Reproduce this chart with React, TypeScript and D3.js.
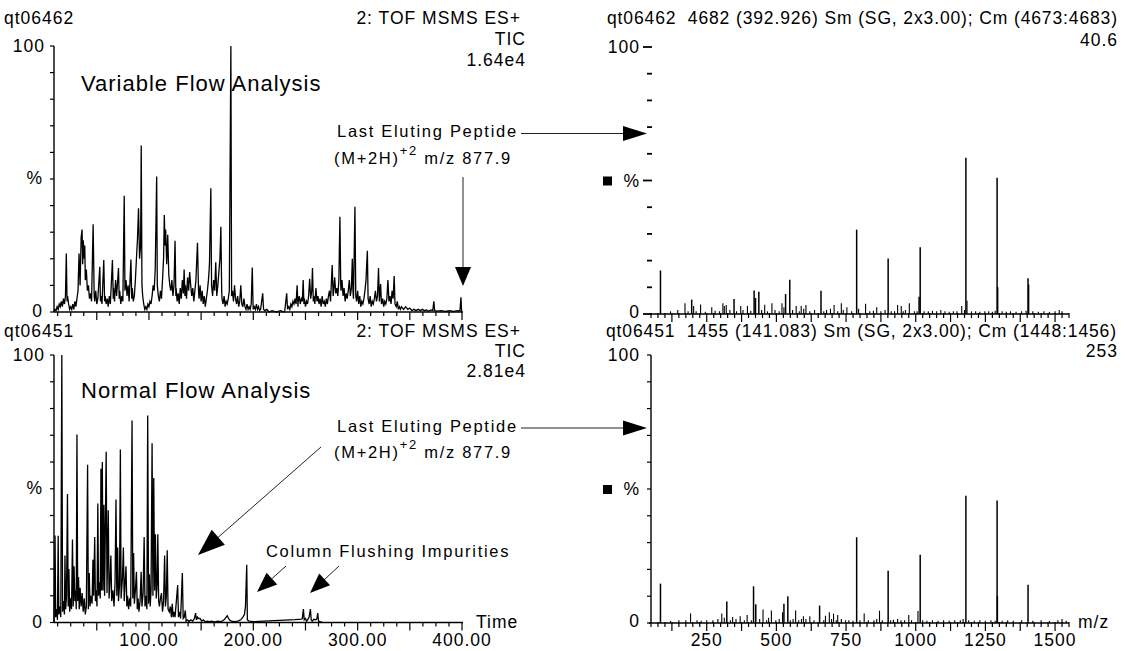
import React from 'react';
import * as d3 from 'd3';

// TIC, variable flow run (time, %)
const variableFlowTic: [number, number][] = [
  [9,0],[10,1],[11,0.5],[12,2],[13,1],[14,3],[15,2],[16,4],[17,2],[18,5],[19,3],[20,6],[20.8,22],[21.5,4],[22,6],[23,3],[24,1],[25,2],[26,1],[27,3],[28,1],[29,4],[30,2],[31,5],[32,8],[33,22],[34,10],[35,28],[35.9,31],[36.5,18],[37,27],[38,20],[38.5,25],[39,12],[40,16],[41,8],[42,10],[43,5],[44,7],[45,4],[46.5,33],[47.5,6],[48,4],[49,8],[50,3],[51,5],[52.9,17],[53.5,4],[54,6],[55,3],[56.7,19.5],[57.5,4],[58,6],[59,3],[60,5],[61,2],[62,6],[63,3],[65,19.5],[65.8,5],[66,9],[67,4],[68,12],[69,6],[70.8,16.5],[71.5,5],[72,8],[73,3],[74,6],[75,4],[76.3,43.7],[77,8],[78,12],[79,6],[80,10],[81,4],[82.7,19.7],[83.5,5],[84,9],[85,4],[86,6],[87,12],[88,20],[89,27.5],[90,39],[91,20],[92,25],[92.6,62.6],[93.3,10],[94,6],[95,3],[96,1],[97,2],[98,1],[99,3],[100,2],[101,4],[102,3],[103,6],[104,10],[105,8],[106,16],[107.4,50.9],[108,10],[109,6],[110,4],[111,8],[112,5],[113,12],[114,20],[114.7,36.5],[115.5,25],[116,31],[117,18],[118,29],[119,14],[120,10],[121,8],[122,12],[123,6],[124,10],[125,26.8],[125.8,6],[126,9],[127,4],[128,7],[129,3],[130,9],[131,5],[132,12],[133,7],[133.7,16],[134.5,6],[135,10],[136,5],[137,13],[138,8],[139,15],[140,10],[141,6],[142,9],[143,4],[144,8],[145,12],[146.5,26],[147.5,8],[148,5],[149,10],[150,4],[151,8],[152,3],[153,6],[154,2],[155,5],[156,8],[157,12],[158,18],[159.3,46.5],[160,10],[161,6],[162,12],[163,8],[164,18.7],[165,6],[166,10],[167,15],[168,20],[168.9,32],[169.7,8],[170,5],[171,3],[172,6],[173,2],[174,4],[175,3],[176,5],[177,8],[178.5,100],[179.2,6],[180,8],[181,4],[182,10],[183,5],[184,3],[185,6],[186,2],[187,4],[188,10],[189,3],[190,2],[191,5],[192,2],[193,1],[194,3],[195,1],[196,2],[197,1],[198,3],[199,16.7],[199.8,2],[200,1],[201,2],[202,1],[203,3],[204,1],[205,2],[206,0.5],[207,1],[209,7],[209.8,1],[211,0.5],[213,1],[215,0],[218,0.5],[222,0],[226,0.5],[230,0],[232,7],[232.8,1],[234,2],[235,1],[236,3],[237,2],[238,4],[239,3],[240,5],[241,3],[242,10],[242.8,2],[243,4],[244,6],[245,3],[246,5],[247,4],[247.8,12],[248.5,3],[249,5],[250,2],[251,4],[252,3],[253,6],[254,12.5],[255,5],[256,8],[256.7,16.5],[257.5,4],[258,6],[259,3],[260,9],[261,4],[262,6],[263,3],[264,5],[265,2],[266,6],[267,3],[268,4],[269,2],[270,5],[271,3],[272,6],[273,8],[274,4],[275.6,17.7],[276.5,6],[277,8],[278,13],[279,7],[280,9],[281,6],[282,12],[283,35.8],[283.8,10],[284,8],[285,12],[286,6],[287,9],[288,4],[289,7],[290,5],[291,8],[292,12],[293,6],[294,9],[294.9,20],[295.5,8],[296,5],[297.4,39.6],[298.2,6],[299,4],[300,8],[301,3],[302,6],[303,2],[304,4],[305,3],[306,5],[307,8],[308,12],[309.3,23],[310,5],[311,3],[312,6],[313,2],[314,4],[315,3],[316,5],[317,8],[318,4],[319,6],[320,16.5],[320.8,4],[322,10.5],[322.8,3],[324,5],[325,2],[326,4],[327,3],[328,5],[329,12],[330,4],[331,6],[332,3],[333,8],[334,5],[335,13.5],[335.8,3],[337,2],[338,4],[339,1],[340,2],[341,1],[342,2],[344,1],[346,2],[348,1],[350,1.5],[352,0.5],[354,1],[356,0.5],[358,1],[360,0.5],[362,1],[364,0.5],[366,0.8],[368,0.3],[370,0.8],[372,0.5],[373,4],[373.8,0.5],[376,0.3],[380,0.5],[384,0.2],[388,0.5],[392,0.2],[396,0.5],[398,0.3],[399,5.5],[399.6,0.3],[400,0]
];

// TIC, normal flow run (time, %)
const normalFlowTic: [number, number][] = [
  [9,0],[10,32.5],[10.6,2],[11.5,5],[12.3,1],[13,32.4],[13.6,3],[14.5,6],[15.5,2],[16.5,100],[17.2,4],[18,8],[19,3],[19.5,25],[20.2,5],[21,10],[21.9,48],[22.6,6],[23.3,20],[24,4],[25,9],[25.8,5],[26.7,31],[27.4,6],[28.2,21],[29,8],[29.8,12],[30.3,5],[31,70.3],[31.7,8],[32.5,17],[33.2,5],[34,13],[35,6],[36,11],[37,4],[38,9],[39,3],[40,6],[41.2,59],[41.9,5],[42.8,18.5],[43.5,6],[44.5,10],[45.5,7],[46.3,23.5],[47,10],[48,32],[48.7,8],[49.5,12],[50.2,6],[51,44.5],[51.7,10],[52.5,15],[53.3,9],[54,57.5],[54.6,12],[55.3,60],[56,12],[56.8,44],[57.5,10],[59,63.8],[59.8,11],[61,42],[61.8,9],[62.5,14],[63.5,25],[64.3,8],[65.5,12],[66.5,6],[67.5,15],[68.4,46],[69.2,10],[70,28],[70.8,8],[71.8,14],[72.6,64.7],[73.3,9],[74.5,16],[75.5,28],[76.3,8],[77,14],[78,21],[78.8,6],[79.5,10],[80.5,5],[81.5,9],[82.5,6],[83.8,75.5],[84.5,9],[85.3,26],[86,7],[87,12],[88,19],[88.8,5],[89.6,9],[90.4,4],[91.5,8],[92.5,19],[93.3,6],[94.4,11],[95.4,32],[96.2,6],[97,10],[98,5],[98.8,77.4],[99.6,7],[100.4,18],[101.2,6],[102,12],[103,67],[103.8,10],[104.6,54],[105.4,12],[106.2,33],[107,9],[107.8,14],[108.5,33],[109.3,8],[110,6],[111,9],[112,11],[113,4],[114,8],[115,25],[115.8,6],[116.7,10],[117.5,27],[118.3,5],[119.5,4],[120.5,6],[121.5,2],[122.3,7],[123.2,2],[124,4],[125,2],[127.5,14],[128.3,2],[129.3,4],[130.3,1.5],[132,18.5],[132.8,1.5],[133.8,2],[134.8,4.5],[135.6,0.5],[137,1],[138.5,0.3],[140,1],[142,0.5],[143.5,1.5],[144.7,3.5],[145.5,1],[146.5,2],[147.5,1.5],[149,1.5],[150.5,0.5],[152,1],[154,0.3],[156,0.5],[158,0.3],[160,0.5],[163,0.2],[166,0.5],[169,0.3],[172,1],[175,2.5],[177,1],[179,0.5],[182,0.3],[185,0.5],[188,1],[190,2],[191.5,3],[192.5,6],[193.7,21.6],[194.3,1],[196,0.5],[200,0.3],[210,0.5],[220,0.7],[230,0.9],[240,1.1],[246,1.3],[247,1.5],[248,5],[248.8,1],[250,1.5],[251,0.5],[252,1],[253.5,2],[254.7,5],[255.5,1],[256.5,0.5],[258,1.2],[260,1],[261,1.5],[261.7,3.5],[262.5,0.5],[264,0.3],[266.5,0]
];

// MS/MS spectrum at scan 4682 (m/z, %)
const variableFlowSpectrum: [number, number][] = [
  [84,16.3],[120,1],[146,1.5],[172,4],[183,1],[196,5.4],[203,3],[212,1],[228,3.6],[245,0.8],[268,2.5],[280,1.2],[296,1],[308,4],[313,3],[320,3.4],[333,1.5],[348,5.6],[357,1],[372,3],[380,1.5],[396,3],[408,1.2],[420,8.8],[425,6],[437,8.3],[447,1.5],[458,3.5],[468,1],[484,4],[495,1.5],[510,1],[520,4],[527,2.5],[533,7.5],[548,12.8],[558,1.5],[571,3],[582,1],[589,3],[598,2],[606,3.4],[620,1],[637,1.5],[660,8.7],[670,1],[680,1.5],[694,2],[707,3.4],[720,1],[733,4],[740,1.5],[753,2.5],[770,1],[788,31.6],[795,2],[820,3.8],[835,1],[848,1.2],[860,2.5],[875,1],[890,1.5],[901,20.8],[912,1],[924,1],[935,3.4],[948,3],[955,1],[963,1.5],[977,4],[995,1],[1005,1],[1012,6.5],[1016,25],[1030,1],[1045,1],[1060,1.2],[1075,1],[1090,1.5],[1105,1],[1120,0.8],[1135,1],[1148,1],[1165,3],[1175,1.5],[1180,58.5],[1184,5],[1200,1],[1215,1],[1230,0.8],[1248,1],[1262,1],[1275,0.8],[1285,1.2],[1292,51],[1294,10],[1310,1],[1325,0.8],[1340,1],[1360,0.8],[1380,1],[1396,1.2],[1403,13.4],[1405,11],[1420,1],[1440,0.8],[1460,1],[1480,0.8],[1500,1],[1515,1.5],[1525,1]
];

// MS/MS spectrum at scan 1455 (m/z, %)
const normalFlowSpectrum: [number, number][] = [
  [84,14.7],[120,0.8],[150,1],[175,1],[192,3.5],[215,1],[230,0.8],[250,1],[272,1],[290,1.5],[304,3.5],[313,2],[322,8],[335,1],[343,2.2],[355,1.5],[370,2.5],[385,1],[395,3],[410,1],[418,13.7],[426,7],[440,1.5],[452,5],[465,1],[472,2],[482,4.7],[498,1],[510,1.5],[522,4],[527,7.2],[541,10],[550,1],[560,1.5],[569,4.7],[580,1],[590,1.5],[597,2.5],[606,1.5],[620,2.5],[635,1],[655,6.5],[670,1],[676,2.7],[690,4],[698,1.5],[705,3.5],[715,1],[720,3],[733,1.5],[748,1],[760,1],[775,0.8],[788,32],[800,1],[815,3.5],[830,1],[850,1],[860,1.5],[870,4.6],[880,1],[901,19.5],[910,1],[920,1.2],[935,1.5],[947,1],[960,1],[975,3],[985,1],[1008,4.5],[1016,25.5],[1025,1],[1040,0.8],[1060,1],[1080,0.8],[1100,1],[1120,0.8],[1140,1],[1160,1],[1170,1.5],[1180,47.5],[1190,1],[1210,0.8],[1230,1],[1250,0.8],[1270,1],[1285,0.8],[1292,45.7],[1293,10],[1310,0.8],[1330,1],[1350,0.8],[1380,1],[1403,14.3],[1420,0.8],[1450,1],[1480,0.8],[1510,1],[1525,1.5],[1540,0.8]
];

const timeTicks = [100, 200, 300, 400];
const timeTickLabels = ['100.00', '200.00', '300.00', '400.00'];
const mzTicks = [250, 500, 750, 1000, 1250, 1500];

const FONT = '"Liberation Sans", Arial, Helvetica, sans-serif';

// triangle head for an arrow running from (x1,y1) to the tip (x2,y2)
const arrowHead = (x1: number, y1: number, x2: number, y2: number, len: number, half: number) => {
  const dx = x2 - x1, dy = y2 - y1;
  const d = Math.sqrt(dx * dx + dy * dy);
  const ux = dx / d, uy = dy / d;
  const bx = x2 - ux * len, by = y2 - uy * len;
  return `${x2},${y2} ${bx - uy * half},${by + ux * half} ${bx + uy * half},${by - ux * half}`;
};

const Arrow = ({ x1, y1, x2, y2, len = 24, half = 8, w = 1 }: any) => {
  const dx = x2 - x1, dy = y2 - y1;
  const d = Math.sqrt(dx * dx + dy * dy);
  return (
    <g>
      <line x1={x1} y1={y1} x2={x2 - (dx / d) * (len - 2)} y2={y2 - (dy / d) * (len - 2)} stroke="#222" strokeWidth={w} />
      <polygon points={arrowHead(x1, y1, x2, y2, len, half)} fill="#000" />
    </g>
  );
};

const Chromatogram = ({ data, y0, y100, showLabels }: any) => {
  const x = d3.scaleLinear().domain([9, 400]).range([54, 462]);
  const y = d3.scaleLinear().domain([0, 100]).range([y0, y100]);
  const line = d3.line<[number, number]>().x(d => x(d[0])).y(d => y(d[1]));
  const minor = d3.range(12.5, 400.01, 12.5);
  return (
    <g>
      <path d={line(data) || ''} fill="none" stroke="#000" strokeWidth={1.3} strokeLinejoin="miter" />
      <line x1={x(9)} x2={x(9)} y1={y(0)} y2={y(100)} stroke="#000" strokeWidth={1.4} />
      <line x1={x(9)} x2={x(400) + 1} y1={y(0)} y2={y(0)} stroke="#000" strokeWidth={1.4} />
      {d3.range(0, 101, 10).map(v => (
        <line key={v} x1={x(9) - 4} x2={x(9)} y1={y(v)} y2={y(v)} stroke="#000" strokeWidth={1.2} />
      ))}
      {minor.map(v => (
        <line key={v} x1={x(v)} x2={x(v)} y1={y(0)} y2={y(0) + (v % 50 === 0 ? 8 : 4)} stroke="#000" strokeWidth={1.2} />
      ))}
      <text x={45} y={y(100) + 6} textAnchor="end">100</text>
      <text x={43} y={y(50) + 5} textAnchor="end">%</text>
      <text x={43} y={y(0) + 5} textAnchor="end">0</text>
      {showLabels && timeTicks.map((t, i) => (
        <text key={t} x={x(t)} y={y(0) + 23} textAnchor="middle">{timeTickLabels[i]}</text>
      ))}
    </g>
  );
};

const Spectrum = ({ data, y0, y100, axisLine, showLabels }: any) => {
  const x = d3.scaleLinear().domain([50, 1550]).range([651, 1069]);
  const y = d3.scaleLinear().domain([0, 100]).range([y0, y100]);
  const minor = d3.range(50, 1550.01, 25);
  return (
    <g>
      {data.map((d: [number, number], i: number) => (
        <line key={i} x1={x(d[0])} x2={x(d[0])} y1={y(0)} y2={y(d[1])} stroke="#000" strokeWidth={d[1] > 5 ? 1.5 : 1.1} />
      ))}
      <line x1={x(50) - 2} x2={x(1550)} y1={y(0)} y2={y(0)} stroke="#000" strokeWidth={1.4} />
      {minor.map(v => (
        <line key={v} x1={x(v)} x2={x(v)} y1={y(0) - 1} y2={y(0) + (v % 125 === 0 ? 8 : 4)} stroke="#000" strokeWidth={1.2} />
      ))}
      {axisLine ? (
        <g>
          <line x1={x(50)} x2={x(50)} y1={y(0)} y2={y(100)} stroke="#000" strokeWidth={1.4} />
          {d3.range(0, 101, 10).map(v => (
            <line key={v} x1={x(50) - 4} x2={x(50)} y1={y(v)} y2={y(v)} stroke="#000" strokeWidth={1.2} />
          ))}
        </g>
      ) : (
        d3.range(0, 101, 10).map(v => (
          <line key={v} x1={x(50) - (v % 50 === 0 ? 8 : 4)} x2={x(50) + 1} y1={y(v)} y2={y(v)} stroke="#000" strokeWidth={1.8} />
        ))
      )}
      <text x={640} y={y(100) + 6} textAnchor="end">100</text>
      <rect x={603} y={y(50) - 4} width={9} height={9} fill="#000" />
      <text x={640} y={y(50) + 6} textAnchor="end">%</text>
      <text x={640} y={y(0) + 4} textAnchor="end">0</text>
      {showLabels && mzTicks.map(t => (
        <text key={t} x={x(t)} y={y(0) + 23} textAnchor="middle">{t}</text>
      ))}
    </g>
  );
};

const App = () => {
  const note = { fontSize: 16.5, letterSpacing: 1.7 };
  const big = { fontSize: 22, letterSpacing: 1 };
  const title = { whiteSpace: 'pre' as const, letterSpacing: 0 };
  return (
    <svg width={1125} height={651} style={{ position: 'absolute', left: 0, top: 0, background: '#fff' }}
      fontFamily={FONT} fontSize={17.5} letterSpacing={1}>
      <rect width={1125} height={651} fill="#fff" />

      {/* top left: variable flow TIC */}
      <text x={4} y={24}>qt06462</text>
      <text x={521} y={24} textAnchor="end">2: TOF MSMS ES+</text>
      <text x={526} y={45} textAnchor="end">TIC</text>
      <text x={526} y={66} textAnchor="end">1.64e4</text>
      <Chromatogram data={variableFlowTic} y0={312} y100={46} showLabels={false} />
      <text x={81} y={91} style={big}>Variable Flow Analysis</text>
      <text x={337} y={137} style={note}>Last Eluting Peptide</text>
      <text x={334} y={164} style={note}>(M+2H)<tspan dy={-9} fontSize={13}>+2</tspan><tspan dy={9}> m/z 877.9</tspan></text>
      <Arrow x1={463} y1={177} x2={463} y2={286} len={19} half={8} w={1} />
      <Arrow x1={521} y1={133.5} x2={647} y2={133.5} len={24} half={7.5} w={1} />

      {/* top right: spectrum */}
      <text x={607} y={24} style={title} textLength={510} lengthAdjust="spacing">qt06462  4682 (392.926) Sm (SG, 2x3.00); Cm (4673:4683)</text>
      <text x={1118} y={46} textAnchor="end">40.6</text>
      <Spectrum data={variableFlowSpectrum} y0={314} y100={47} axisLine={false} showLabels={false} />

      {/* bottom left: normal flow TIC */}
      <text x={4} y={337}>qt06451</text>
      <text x={521} y={337} textAnchor="end">2: TOF MSMS ES+</text>
      <text x={526} y={357} textAnchor="end">TIC</text>
      <text x={526} y={377} textAnchor="end">2.81e4</text>
      <Chromatogram data={normalFlowTic} y0={622.5} y100={355} showLabels={true} />
      <text x={81} y={398} style={big}>Normal Flow Analysis</text>
      <text x={337} y={432} style={note}>Last Eluting Peptide</text>
      <text x={334} y={458} style={note}>(M+2H)<tspan dy={-9} fontSize={13}>+2</tspan><tspan dy={9}> m/z 877.9</tspan></text>
      <Arrow x1={521} y1={428} x2={647} y2={428} len={24} half={7.5} w={1} />
      <Arrow x1={321} y1={447} x2={198} y2={555} len={27} half={10} w={1} />
      <text x={266} y={557} style={note}>Column Flushing Impurities</text>
      <Arrow x1={286} y1={566} x2={257} y2={592} len={20} half={8} w={1} />
      <Arrow x1={339} y1={566} x2={310} y2={593} len={20} half={8} w={1} />
      <text x={476} y={628}>Time</text>

      {/* bottom right: spectrum */}
      <text x={606} y={337} style={title} textLength={510} lengthAdjust="spacing">qt06451  1455 (141.083) Sm (SG, 2x3.00); Cm (1448:1456)</text>
      <text x={1118} y={357} textAnchor="end">253</text>
      <Spectrum data={normalFlowSpectrum} y0={623} y100={355} axisLine={true} showLabels={true} />
      <text x={1078} y={628}>m/z</text>
    </svg>
  );
};

export default App;
